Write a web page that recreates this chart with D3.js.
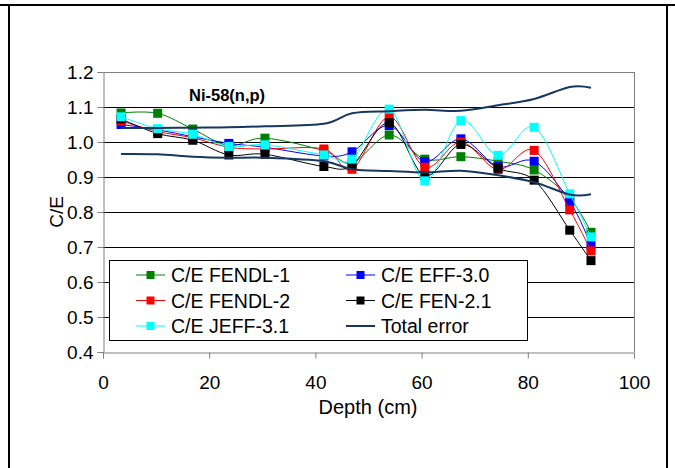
<!DOCTYPE html>
<html><head><meta charset="utf-8">
<script src="https://cdn.jsdelivr.net/npm/d3@7"></script>
<style>body{margin:0;background:#fff}svg{display:block}text{font-family:Arial,'Liberation Sans',sans-serif}</style>
</head><body>
<script>
const depth  = [3.4, 10.3, 16.9, 23.7, 30.5, 41.6, 46.9, 53.9, 60.6, 67.4, 74.4, 81.2, 87.9, 91.9];
const fendl1 = [1.083, 1.082, 1.037, 0.990, 1.011, 0.975, 0.940, 1.020, 0.951, 0.958, 0.945, 0.920, 0.840, 0.742];
const eff30  = [1.050, 1.035, 1.015, 0.996, 0.985, 0.960, 0.972, 1.047, 0.944, 1.009, 0.930, 0.945, 0.830, 0.705];
const fendl2 = [1.060, 1.030, 1.012, 0.985, 0.980, 0.980, 0.922, 1.072, 0.928, 1.000, 0.921, 0.976, 0.806, 0.689];
const fen21  = [1.066, 1.024, 1.005, 0.963, 0.965, 0.930, 0.934, 1.055, 0.904, 0.993, 0.925, 0.891, 0.748, 0.661];
const jeff31 = [1.072, 1.038, 1.022, 0.987, 0.992, 0.963, 0.951, 1.094, 0.889, 1.061, 0.962, 1.042, 0.852, 0.729];
const errUpper = [1.040, 1.040, 1.041, 1.042, 1.045, 1.052, 1.082, 1.088, 1.092, 1.089, 1.105, 1.123, 1.157, 1.155];
const errLower = [0.966, 0.965, 0.958, 0.955, 0.955, 0.945, 0.922, 0.917, 0.913, 0.918, 0.905, 0.885, 0.850, 0.851];
const xTicks = [0, 20, 40, 60, 80, 100];
const yTicks = [0.4, 0.5, 0.6, 0.7, 0.8, 0.9, 1.0, 1.1, 1.2];
const seriesNames = ["C/E FENDL-1", "C/E EFF-3.0", "C/E FENDL-2", "C/E FEN-2.1", "C/E JEFF-3.1", "Total error"];

const series = [
  {name: seriesNames[0], values: fendl1, color: "#008000"},
  {name: seriesNames[1], values: eff30,  color: "#0000ff"},
  {name: seriesNames[2], values: fendl2, color: "#ff0000"},
  {name: seriesNames[3], values: fen21,  color: "#000000"},
  {name: seriesNames[4], values: jeff31, color: "#00ffff"}
];
const errColor = "#17375e";

const W = 675, H = 468;
const P = {l: 103, r: 634, t: 72, b: 352};
const svg = d3.select("body").append("svg").attr("width", W).attr("height", H);

// frame (table cell borders)
const fr = svg.append("g").attr("stroke", "#000").attr("stroke-width", 2);
fr.append("line").attr("x1", 0).attr("x2", W).attr("y1", 5).attr("y2", 5);
fr.append("line").attr("x1", 9).attr("x2", 9).attr("y1", 5).attr("y2", H);
fr.append("line").attr("x1", 667).attr("x2", 667).attr("y1", 5).attr("y2", H);

const x = d3.scaleLinear().domain([0, 100]).range([P.l, P.r]);
const y = d3.scaleLinear().domain([0.4, 1.2]).range([P.b, P.t]);

// gridlines
svg.append("g").selectAll("line").data(yTicks.filter(v => v > 0.45 && v < 1.15)).join("line")
  .attr("x1", P.l).attr("x2", P.r).attr("y1", d => Math.round(y(d)) + 0.5).attr("y2", d => Math.round(y(d)) + 0.5)
  .attr("stroke", "#000").attr("stroke-width", 1);
// plot border top/right
svg.append("line").attr("x1", P.l).attr("x2", P.r).attr("y1", P.t + 0.5).attr("y2", P.t + 0.5).attr("stroke", "#808080");
svg.append("line").attr("x1", P.r + 0.5).attr("x2", P.r + 0.5).attr("y1", P.t).attr("y2", P.b).attr("stroke", "#808080");

// axes
const fmt = d3.format(".1f");
const yAxis = svg.append("g").attr("transform", `translate(${P.l + 0.5},0)`)
  .call(d3.axisLeft(y).tickValues(yTicks).tickFormat(fmt).tickSize(6).tickPadding(4));
const xAxis = svg.append("g").attr("transform", `translate(0,${P.b + 0.5})`)
  .call(d3.axisBottom(x).tickValues(xTicks).tickSize(6).tickPadding(17));
[xAxis, yAxis].forEach(a => {
  a.select(".domain").attr("stroke", "#808080");
  a.selectAll(".tick line").attr("stroke", "#808080");
  a.selectAll("text").attr("font-size", 19).attr("fill", "#000").attr("font-family", "Arial,'Liberation Sans',sans-serif");
});

// axis titles
svg.append("text").attr("x", 368).attr("y", 414).attr("text-anchor", "middle").attr("font-size", 20).text("Depth (cm)");
svg.append("text").attr("transform", "translate(63,212) rotate(-90)").attr("text-anchor", "middle").attr("font-size", 19).text("C/E");
svg.append("text").attr("x", 189).attr("y", 101).attr("font-size", 16.5).attr("font-weight", "bold").text("Ni-58(n,p)");

// lines
const line = d3.line().x((d, i) => x(depth[i])).y(d => y(d)).curve(d3.curveCardinal.tension(0));
const MS = 9;
series.forEach(s => {
  svg.append("path").attr("d", line(s.values)).attr("fill", "none").attr("stroke", s.color).attr("stroke-width", 1);
  svg.append("g").selectAll("rect").data(s.values).join("rect")
    .attr("x", (d, i) => x(depth[i]) - MS / 2).attr("y", d => y(d) - MS / 2)
    .attr("width", MS).attr("height", MS).attr("fill", s.color);
});
[errUpper, errLower].forEach(v => svg.append("path").attr("d", line(v)).attr("fill", "none").attr("stroke", errColor).attr("stroke-width", 2));

// legend
const lg = svg.append("g");
lg.append("rect").attr("x", 109.5).attr("y", 260.5).attr("width", 418).attr("height", 80).attr("fill", "#fff").attr("stroke", "#000");
const legendItems = [
  {name: seriesNames[0], color: series[0].color, col: 0, row: 0},
  {name: seriesNames[1], color: series[1].color, col: 1, row: 0},
  {name: seriesNames[2], color: series[2].color, col: 0, row: 1},
  {name: seriesNames[3], color: series[3].color, col: 1, row: 1},
  {name: seriesNames[4], color: series[4].color, col: 0, row: 2},
  {name: seriesNames[5], color: errColor, col: 1, row: 2, err: true}
];
legendItems.forEach(it => {
  const lx = it.col ? 346 : 136, ly = 275 + it.row * 25.5;
  lg.append("line").attr("x1", lx).attr("x2", lx + 29).attr("y1", ly).attr("y2", ly)
    .attr("stroke", it.color).attr("stroke-width", it.err ? 2 : 1);
  if (!it.err) lg.append("rect").attr("x", lx + 14.5 - 4).attr("y", ly - 4).attr("width", 8).attr("height", 8).attr("fill", it.color);
  lg.append("text").attr("x", lx + 35).attr("y", ly).attr("dy", "0.36em").attr("font-size", 19.5).text(it.name);
});
</script>
</body></html>
